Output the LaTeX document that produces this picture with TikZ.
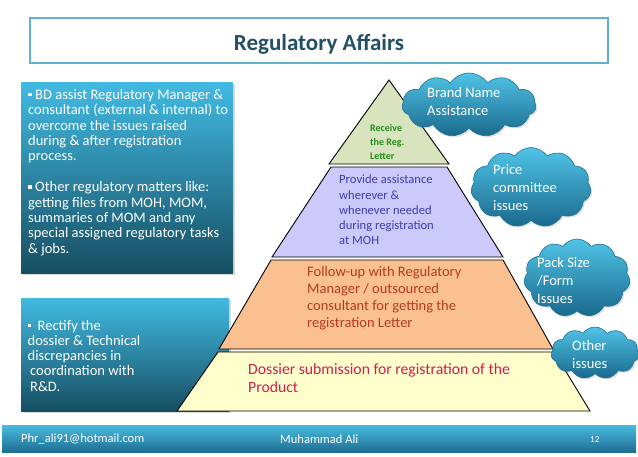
\documentclass[tikz,border=0pt]{standalone}
\usepackage{fontspec}
\setmainfont{Carlito}
\usetikzlibrary{shapes.symbols,shadows}
\definecolor{boxtop}{RGB}{66,186,226}
\definecolor{boxbot}{RGB}{22,78,98}
\definecolor{cloudtop}{RGB}{80,195,230}
\definecolor{cloudbot}{RGB}{25,105,140}
\definecolor{cloudline}{RGB}{30,115,150}
\definecolor{titleline}{RGB}{95,178,205}
\definecolor{titletext}{RGB}{35,80,100}
\definecolor{lgreen}{RGB}{215,228,189}
\definecolor{llav}{RGB}{204,202,250}
\definecolor{lorange}{RGB}{250,192,144}
\definecolor{lyellow}{RGB}{255,255,204}
\definecolor{tgreen}{RGB}{40,140,30}
\definecolor{tblue}{RGB}{64,60,180}
\definecolor{tred}{RGB}{180,60,30}
\definecolor{tcrimson}{RGB}{205,30,85}
\definecolor{bartop}{RGB}{72,188,224}
\definecolor{barbot}{RGB}{30,110,145}
\newcommand{\mysqbullet}{\raisebox{0.2em}{\rule{0.26em}{0.26em}}}
\begin{document}
\begin{tikzpicture}[x=1pt,y=-1pt,
  bluebox/.style={top color=boxtop,bottom color=boxbot,draw=none,
    drop shadow={shadow xshift=2pt,shadow yshift=-2pt,opacity=0.3}},
  bluecloud/.style={cloud,cloud puffs=11,cloud puff arc=110,aspect=2,
    top color=cloudtop,bottom color=cloudbot,draw=cloudline,line width=0.6pt,
    inner sep=0pt,drop shadow={shadow xshift=1.5pt,shadow yshift=-1.5pt,opacity=0.25}},
  layer/.style={draw=black,line width=0.9pt,line join=miter},
  boxtext/.style={anchor=north west,align=left,inner sep=0pt,text=white,
    font=\fontsize{14.5}{15.4}\selectfont},
  cloudtext/.style={anchor=north west,align=left,inner sep=0pt,text=white,
    font=\fontsize{14.5}{18}\selectfont},
  foottext/.style={anchor=west,inner sep=0pt,text=white}]
\useasboundingbox (0,0) rectangle (638,456);
% title
\node[draw=titleline,line width=1.4pt,fill=white,minimum width=578pt,minimum height=45pt,
  inner sep=0pt] (title) at (319,40.5) {};
\node[anchor=base,inner sep=0pt,text=titletext,font=\fontsize{23}{26}\selectfont\bfseries] (titletxt) at (319,50) {Regulatory Affairs};
% left boxes
\node[bluebox,minimum width=212pt,minimum height=191pt,inner sep=0pt] (lb1) at (127,177.5) {};
\node[boxtext] (lb1t) at (28,89) {\mysqbullet{} BD assist Regulatory Manager \&\\
consultant (external \& internal) to\\
overcome the issues raised\\
during \& after registration\\
process.\\[15.4pt]
\mysqbullet{} Other regulatory matters like:\\
getting files from MOH, MOM,\\
summaries of MOM and any\\
special assigned regulatory tasks\\
\& jobs.};
\node[bluebox,minimum width=208pt,minimum height=113pt,inner sep=0pt] (lb2) at (125,354.5) {};
\node[boxtext,font=\fontsize{14.5}{15.2}\selectfont] (lb2t) at (27.5,320) {\mysqbullet{}\hspace{3pt} Rectify the\\
dossier \& Technical\\
discrepancies in\\
\hspace{2.5pt}coordination with\\
\hspace{2.5pt}R\&D.};
% pyramid
\draw[layer,fill=lyellow] (218,352) -- (554,352) -- (590,411) -- (177,411) -- cycle;
\draw[layer,fill=lorange] (271,260) -- (503,260) -- (553,349) -- (219,349) -- cycle;
\draw[layer,fill=llav] (331,167) -- (447,167) -- (503,257) -- (272,257) -- cycle;
\draw[layer,fill=lgreen] (389,80) -- (449,164) -- (329,164) -- cycle;
\node[anchor=north west,align=left,inner sep=0pt,text=tgreen,
  font=\fontsize{10}{14}\selectfont\bfseries] (p1) at (370,124.5) {Receive\\the Reg.\\Letter};
\node[anchor=north west,align=left,inner sep=0pt,text=tblue,
  font=\fontsize{12.6}{15.2}\selectfont] (p2) at (339,175) {Provide assistance\\wherever \&\\whenever needed\\during registration\\at MOH};
\node[anchor=north west,align=left,inner sep=0pt,text=tred,
  font=\fontsize{14.5}{17}\selectfont] (p3) at (307,266) {Follow-up with Regulatory\\Manager / outsourced\\consultant for getting the\\registration Letter};
\node[anchor=north west,align=left,inner sep=0pt,text=tcrimson,
  font=\fontsize{15.7}{18.5}\selectfont] (p4) at (248,363) {Dossier submission for registration of the\\Product};
% clouds
\node[bluecloud,minimum width=134pt,minimum height=64pt] (c1) at (469,105) {};
\node[cloudtext] (c1t) at (427,87) {Brand Name\\Assistance};
\node[bluecloud,minimum width=120pt,minimum height=80pt] (c2) at (531,187.5) {};
\node[cloudtext] (c2t) at (493,164) {Price\\committee\\issues};
\node[bluecloud,minimum width=106pt,minimum height=78pt] (c3) at (577,278) {};
\node[cloudtext] (c3t) at (537,257) {Pack Size\\/Form\\Issues};
\node[bluecloud,minimum width=88pt,minimum height=52pt] (c4) at (595,353) {};
\node[cloudtext] (c4t) at (572,340) {Other\\issues};
% footer
\node[top color=bartop,bottom color=barbot,minimum width=634pt,minimum height=27pt,inner sep=0pt] (bar) at (319,438.5) {};
\node[foottext,font=\fontsize{12.5}{14}\selectfont] (mail) at (21,439) {Phr\_ali91@hotmail.com};
\node[foottext,font=\fontsize{12.5}{14}\selectfont] (author) at (280,439) {Muhammad Ali};
\node[foottext,font=\fontsize{9}{11}\selectfont] (page) at (590,439.5) {12};
\end{tikzpicture}
\end{document}
